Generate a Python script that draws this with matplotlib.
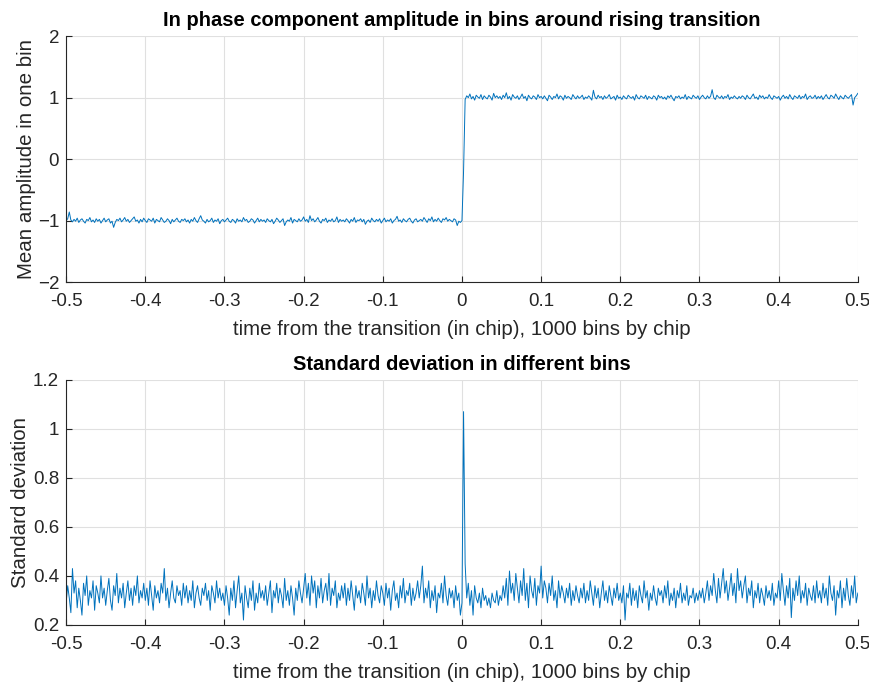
import matplotlib.pyplot as plt
import numpy as np

# mean amplitude per bin (x100), bins -0.5 .. 0.5 step 0.002
amp_low = [
    -100, -97, -86, -99, -102, -98, -101, -96, -103, -99, -97, -101, -104, -98, -100, -95, -102, -99, -103, -97, -101, -98, -104, -100, -96,
    -102, -99, -97, -104, -101, -111, -103, -98, -100, -96, -102, -99, -95, -101, -98, -103, -100, -97, -94, -101, -99, -104, -98, -102, -96,
    -100, -103, -97, -99, -101, -96, -104, -98, -100, -102, -95, -99, -103, -101, -97, -100, -105, -98, -102, -99, -96, -101, -103, -98, -100,
    -97, -102, -99, -104, -98, -101, -95, -100, -103, -97, -92, -99, -101, -104, -98, -102, -100, -96, -103, -99, -101, -97, -105, -100, -98,
    -102, -99, -96, -101, -103, -98, -100, -104, -97, -101, -99, -102, -95, -100, -98, -103, -101, -97, -99, -104, -100, -96, -102, -98, -101,
    -99, -103, -97, -100, -102, -98, -105, -101, -96, -99, -103, -100, -97, -108, -102, -99, -101, -95, -104, -98, -100, -102, -97, -101, -99,
    -94, -101, -98, -103, -92, -100, -97, -102, -99, -95, -101, -104, -98, -100, -96, -103, -99, -101, -97, -102, -100, -94, -103, -98, -101,
    -99, -102, -97, -100, -104, -98, -101, -95, -103, -99, -100, -97, -102, -98, -106, -101, -99, -103, -96, -100, -102, -98, -101, -97, -104,
    -100, -96, -102, -99, -101, -97, -104, -100, -98, -93, -101, -99, -103, -97, -100, -102, -98, -96, -101, -104, -99, -97, -102, -100, -98,
    -101, -95, -99, -103, -97, -100, -94, -102, -98, -101, -96, -100, -103, -97, -99, -95, -101, -98, -100, -102, -97, -99, -108, -101, -103,
]
amp_edge = [-100, -20]  # bins at 0 and 0.002
amp_high = [
    97, 103, 100, 106, 98, 102, 96, 104, 101, 99, 105, 97, 103, 100, 98, 104, 101, 96, 107, 100, 103, 99, 102, 97,
    104, 100, 108, 98, 102, 96, 105, 101, 99, 103, 97, 101, 106, 99, 102, 95, 104, 100, 98, 103, 101, 97, 105, 100, 102,
    98, 103, 99, 95, 104, 101, 97, 102, 100, 106, 98, 103, 101, 96, 104, 99, 102, 100, 97, 105, 101, 98, 103, 99, 101,
    104, 97, 101, 99, 103, 100, 96, 112, 101, 98, 104, 100, 102, 97, 103, 99, 101, 105, 98, 100, 102, 96, 104, 99, 101,
    97, 103, 100, 98, 104, 101, 99, 102, 96, 105, 100, 98, 103, 101, 99, 104, 97, 102, 100, 98, 103, 101, 96, 104, 100,
    102, 98, 101, 97, 103, 100, 104, 99, 95, 102, 100, 103, 98, 101, 99, 105, 97, 102, 100, 98, 104, 101, 99, 103, 97,
    101, 104, 100, 98, 103, 99, 102, 113, 100, 97, 104, 101, 99, 103, 98, 102, 100, 105, 97, 101, 99, 103, 100, 98, 102,
    99, 103, 101, 97, 104, 100, 98, 102, 106, 99, 101, 97, 104, 100, 103, 98, 101, 99, 105, 100, 97, 103, 101, 99, 102,
    96, 101, 104, 99, 102, 98, 105, 100, 97, 103, 101, 99, 104, 98, 102, 100, 106, 97, 101, 103, 99, 100, 104, 98, 102,
    99, 103, 97, 101, 105, 100, 98, 104, 102, 99, 106, 101, 97, 103, 100, 98, 104, 101, 99, 102, 105, 88, 100, 103, 107,
]

# standard deviation per bin (x100)
std_low = [
    29, 36, 31, 25, 43, 33, 38, 27, 35, 30, 24, 37, 32, 40, 28, 34, 31, 38, 26, 36, 33, 29, 40, 31, 35,
    28, 34, 39, 30, 26, 36, 32, 41, 29, 35, 31, 37, 27, 33, 38, 30, 35, 28, 36, 32, 40, 29, 34, 31, 37,
    30, 35, 28, 38, 32, 26, 36, 31, 34, 29, 37, 33, 43, 30, 35, 27, 33, 38, 31, 29, 36, 32, 34, 28, 37,
    31, 36, 29, 34, 30, 38, 27, 33, 36, 31, 28, 35, 32, 37, 30, 34, 26, 36, 33, 29, 38, 31, 35, 30, 33,
    28, 36, 31, 24, 35, 30, 38, 27, 34, 40, 29, 33, 22, 36, 31, 27, 35, 30, 38, 26, 33, 29, 37, 31, 34,
    30, 36, 28, 33, 38, 25, 34, 31, 37, 29, 35, 32, 27, 39, 30, 34, 28, 36, 31, 24, 35, 30, 38, 33, 29,
    35, 41, 31, 37, 28, 40, 33, 38, 27, 36, 31, 39, 29, 34, 37, 30, 41, 28, 35, 32, 38, 27, 33, 30, 36,
    31, 37, 28, 35, 30, 38, 32, 26, 36, 31, 34, 29, 37, 33, 28, 40, 31, 35, 27, 34, 30, 38, 32, 29, 36,
    33, 28, 37, 31, 35, 26, 34, 38, 30, 33, 27, 36, 31, 39, 29, 34, 32, 37, 28, 35, 30, 33, 38, 31, 36,
    44, 29, 35, 31, 38, 27, 34, 30, 36, 25, 33, 31, 37, 29, 40, 32, 28, 35, 31, 34, 27, 36, 30, 33, 24,
]
std_edge = [29, 107, 45]  # bins at 0, 0.002, 0.004
std_high = [
    31, 37, 28, 34, 24, 36, 31, 29, 33, 27, 35, 30, 32, 28, 31, 27, 33, 30, 29, 34, 28, 32, 30,
    36, 31, 39, 28, 42, 33, 37, 30, 41, 35, 29, 38, 32, 43, 30, 37, 27, 40, 34, 31, 39, 28, 36, 33, 44,
    31, 38, 35, 29, 37, 32, 40, 30, 34, 27, 38, 31, 36, 33, 29, 35, 31, 37, 28, 34, 30, 36, 32, 29, 35,
    31, 37, 29, 34, 30, 38, 33, 28, 36, 31, 35, 27, 33, 38, 30, 34, 29, 36, 32, 28, 35, 31, 37, 30, 33,
    29, 36, 22, 33, 31, 37, 28, 35, 30, 34, 27, 36, 32, 29, 38, 31, 34, 26, 33, 30, 36, 31, 28, 35, 32,
    34, 29, 36, 31, 38, 28, 33, 30, 35, 27, 34, 31, 37, 29, 33, 30, 36, 28, 32, 31, 35, 29, 33, 30, 34,
    31, 35, 29, 33, 38, 30, 36, 32, 41, 34, 29, 39, 31, 37, 43, 33, 38, 30, 35, 41, 32, 37, 29, 43, 34,
    38, 31, 36, 40, 29, 35, 32, 38, 27, 34, 31, 37, 29, 35, 32, 28, 36, 31, 34, 30, 37, 28, 33, 31, 38,
    30, 41, 34, 28, 36, 31, 39, 23, 35, 30, 38, 32, 40, 29, 34, 31, 37, 28, 35, 32, 30, 36, 29, 38, 31,
    34, 29, 37, 31, 35, 28, 40, 33, 30, 36, 24, 34, 31, 38, 27, 35, 30, 39, 32, 28, 36, 31, 40, 29, 33,
]

amp = np.array(amp_low + amp_edge + amp_high) / 100.0
std = np.array(std_low + std_edge + std_high) / 100.0
assert len(amp) == 501 and len(std) == 501, (len(amp_low), len(amp_high), len(std_low), len(std_high))
t = np.linspace(-0.5, 0.5, len(amp))

line_col = '#0072BD'
ink = '#262626'
xlab = 'time from the transition (in chip), 1000 bins by chip'

plt.rcParams['font.family'] = ['Liberation Sans', 'DejaVu Sans']

fig = plt.figure(figsize=(8.7, 6.83), dpi=100)
ax1 = fig.add_axes([0.076, 0.587, 0.910, 0.360])
ax2 = fig.add_axes([0.076, 0.085, 0.910, 0.359])


def style(ax):
    ax.grid(True, color='#e0e0e0', linewidth=0.8)
    ax.set_axisbelow(True)
    ax.spines['top'].set_visible(False)
    ax.spines['right'].set_visible(False)
    for s in ('left', 'bottom'):
        ax.spines[s].set_color(ink)
        ax.spines[s].set_linewidth(0.8)
    ax.tick_params(direction='in', colors=ink, labelsize=13.5, length=4)
    ax.tick_params(axis='x', pad=8)
    ax.tick_params(axis='y', pad=5)
    ax.set_xlim(-0.5, 0.5)
    ax.set_xticks(np.arange(-0.5, 0.51, 0.1))
    ax.set_xticklabels(['-0.5', '-0.4', '-0.3', '-0.2', '-0.1', '0',
                        '0.1', '0.2', '0.3', '0.4', '0.5'])
    ax.set_xlabel(xlab, fontsize=14.8, color=ink, labelpad=7)


ax1.plot(t, amp, color=line_col, linewidth=0.7)
style(ax1)
ax1.set_ylim(-2, 2)
ax1.set_yticks([-2, -1, 0, 1, 2])
ax1.set_ylabel('Mean amplitude in one bin', fontsize=14.8, color=ink, labelpad=1)
ax1.set_title('In phase component amplitude in bins around rising transition',
              fontsize=14.5, fontweight='bold', pad=7)

ax2.plot(t, std, color=line_col, linewidth=0.7)
style(ax2)
ax2.set_ylim(0.2, 1.2)
ax2.set_yticks([0.2, 0.4, 0.6, 0.8, 1.0, 1.2])
ax2.set_yticklabels(['0.2', '0.4', '0.6', '0.8', '1', '1.2'])
ax2.set_ylabel('Standard deviation', fontsize=14.8, color=ink, labelpad=2)
ax2.set_title('Standard deviation in different bins',
              fontsize=14.5, fontweight='bold', pad=7)

fig.savefig('out.png', dpi=100)
